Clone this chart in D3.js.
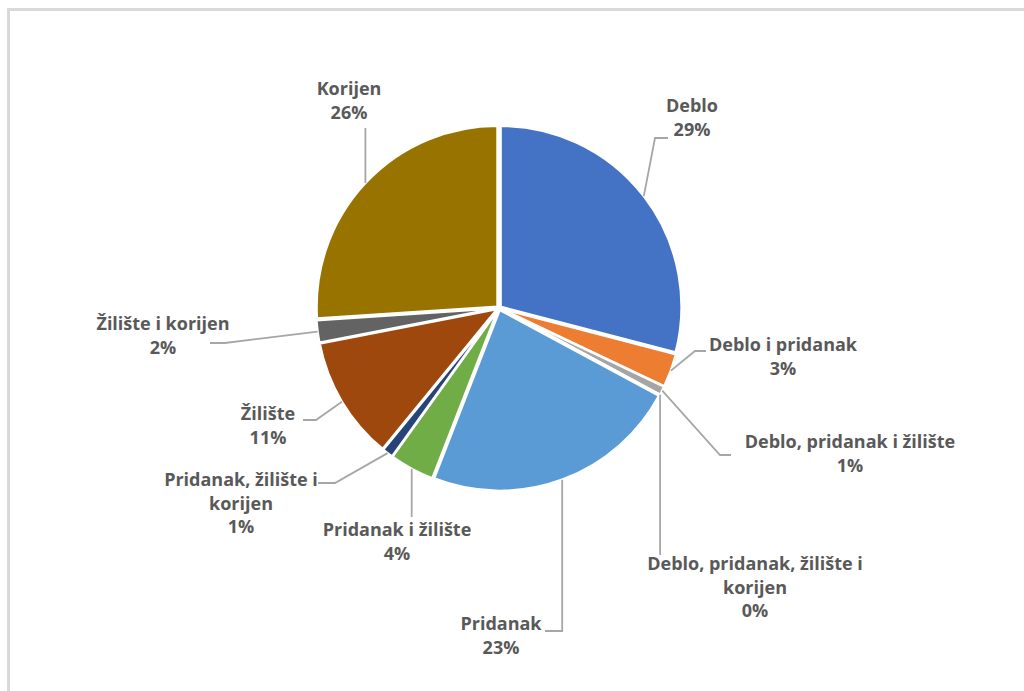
<!DOCTYPE html>
<html>
<head>
<meta charset="utf-8">
<script src="https://cdn.jsdelivr.net/npm/d3@7"></script>
<style>
  body { margin: 0; background: #fff; }
  svg { display: block; }
  .label { font-family: 'Open Sans', sans-serif; font-weight: bold; font-size: 18px; fill: #595959; }
  .leader { fill: none; stroke: #A6A6A6; stroke-width: 1.8; }
</style>
</head>
<body>
<div id="chart"></div>
<script>
// slice names and values (percent), clockwise from 12 o'clock
var categories = [
  'Deblo',
  'Deblo i pridanak',
  'Deblo, pridanak i žilište',
  'Deblo, pridanak, žilište i korijen',
  'Pridanak',
  'Pridanak i žilište',
  'Pridanak, žilište i korijen',
  'Žilište',
  'Žilište i korijen',
  'Korijen'
]
var values = [29, 3, 0.8, 0, 23, 4, 1, 11, 2, 26]

// label text lines (name may wrap like in the original)
var labelLines = [
  ['Deblo'],
  ['Deblo i pridanak'],
  ['Deblo, pridanak i žilište'],
  ['Deblo, pridanak, žilište i', 'korijen'],
  ['Pridanak'],
  ['Pridanak i žilište'],
  ['Pridanak, žilište i', 'korijen'],
  ['Žilište'],
  ['Žilište i korijen'],
  ['Korijen']
]

var colors = ['#4472C4', '#ED7D31', '#A5A5A5', '#FFC000', '#5B9BD5',
  '#70AD47', '#264478', '#9E480E', '#636363', '#997300']

// label placement: x = center of text, y = first baseline,
// leader = points after the pie edge point (elbow / end)
var labelLayout = [
  {x: 692, y: 112, leader: [[655, 138], [668, 138]]},
  {x: 783, y: 351, leader: [[695, 351], [706, 351]]},
  {x: 850, y: 448, leader: [[720, 455], [731, 455]]},
  {x: 755, y: 570, leader: [['same', 555]]},
  {x: 501, y: 630, leader: [['same', 631], [545, 631]]},
  {x: 397, y: 536, leader: [['same', 517]]},
  {x: 241, y: 486, leader: [[335, 483], [318, 483]]},
  {x: 268, y: 420, leader: [[316, 420], [303, 420]]},
  {x: 163, y: 330, leader: [[225, 343], [210, 343]]},
  {x: 349, y: 95, leader: [['same', 128]]}
]

var width = 1024
var height = 691
var center = {x: 499, y: 308}
var radius = 181
var explode = 2
var lineHeight = 23.5

var svg = d3.select('#chart').append('svg')
  .attr('width', width)
  .attr('height', height)

// chart area border (runs off the right and bottom of the picture)
svg.append('rect')
  .attr('x', 8.5)
  .attr('y', 9.5)
  .attr('width', width + 20)
  .attr('height', height + 20)
  .attr('fill', '#fff')
  .attr('stroke', '#D9D9D9')
  .attr('stroke-width', 3)

var total = d3.sum(values)
var pie = d3.pie().sort(null).value(function (d) { return d })
var arcs = pie(values)

var arc = d3.arc().innerRadius(0).outerRadius(radius)

var g = svg.append('g')
  .attr('transform', 'translate(' + center.x + ',' + center.y + ')')

// slices, pushed out a little along their bisector
g.selectAll('.slice')
  .data(arcs)
  .enter().append('path')
  .attr('class', 'slice')
  .attr('d', arc)
  .attr('fill', function (d, i) { return colors[i] })
  .attr('stroke', '#fff')
  .attr('stroke-width', 2.5)
  .attr('stroke-linejoin', 'round')
  .attr('transform', function (d) {
    var a = (d.startAngle + d.endAngle) / 2
    return 'translate(' + (explode * Math.sin(a)) + ',' + (-explode * Math.cos(a)) + ')'
  })

// point on the outer edge at the middle of a slice
function edgePoint (d) {
  var a = (d.startAngle + d.endAngle) / 2
  var r = radius + explode
  return [center.x + r * Math.sin(a), center.y - r * Math.cos(a)]
}

var pct = function (v) { return Math.round(v / total * 100) + '%' }

// leader lines
svg.selectAll('.leader')
  .data(arcs)
  .enter().append('path')
  .attr('class', 'leader')
  .attr('d', function (d, i) {
    var p0 = edgePoint(d)
    var pts = [p0].concat(labelLayout[i].leader.map(function (p) {
      return [p[0] === 'same' ? p0[0] : p[0], p[1]]
    }))
    return d3.line()(pts)
  })

// labels
var labels = svg.selectAll('.label')
  .data(arcs)
  .enter().append('text')
  .attr('class', 'label')
  .attr('text-anchor', 'middle')
  .attr('x', function (d, i) { return labelLayout[i].x })
  .attr('y', function (d, i) { return labelLayout[i].y })

labels.each(function (d, i) {
  var t = d3.select(this)
  var lines = labelLines[i].concat([pct(d.data)])
  lines.forEach(function (s, k) {
    t.append('tspan')
      .attr('x', labelLayout[i].x)
      .attr('dy', k === 0 ? 0 : lineHeight)
      .text(s)
  })
})
</script>
</body>
</html>
